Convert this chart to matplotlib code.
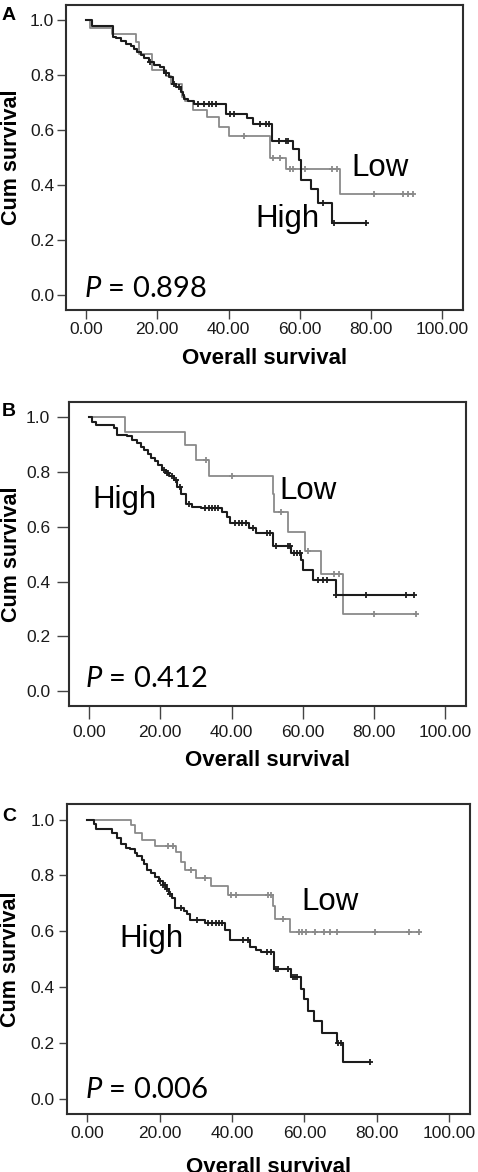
import numpy as np
import matplotlib
matplotlib.use("Agg")
import matplotlib.pyplot as plt

plt.rcParams['font.family'] = ['Liberation Sans', 'DejaVu Sans']
plt.rcParams['mathtext.fontset'] = 'custom'
plt.rcParams['mathtext.it'] = 'Lato:italic'
plt.rcParams['mathtext.rm'] = 'Lato'

# ---- données (temps, survie après chaque évènement) ----
# Panneau A
a_hi_t = [0, 1.8, 7.7, 8.3, 9.7, 11.1, 12.5, 13.5, 14.4, 15.4, 16.3, 17.7, 19.1, 20.9, 21.9,
          23.3, 24.3, 25.2, 26.6, 27.1, 27.5, 28.5, 30.3, 39.2, 45.3, 47.0, 52.2, 58.2, 59.9,
          60.4, 63.1, 65.1, 69.0]
a_hi_s = [1.0, 0.978, 0.94, 0.935, 0.925, 0.915, 0.905, 0.895, 0.885, 0.873, 0.862, 0.85, 0.838,
          0.83, 0.81, 0.794, 0.77, 0.758, 0.74, 0.73, 0.715, 0.705, 0.697, 0.66, 0.643, 0.623,
          0.56, 0.53, 0.493, 0.418, 0.384, 0.336, 0.263]
a_hi_end = 78.6
a_hi_cens = [18.0, 22.5, 24.8, 26.0, 31.5, 33.0, 34.5, 35.5, 36.5, 40.5, 41.5, 48.9, 50.5, 51.3,
             54.2, 56.0, 56.8, 66.6, 69.5, 78.6]
a_lo_t = [0, 1.1, 7.4, 14.0, 14.9, 18.6, 22.4, 24.0, 26.9, 27.7, 30.0, 33.9, 37.2, 40.0, 51.7,
          56.2, 71.3]
a_lo_s = [1.0, 0.972, 0.95, 0.92, 0.879, 0.818, 0.796, 0.77, 0.72, 0.705, 0.673, 0.649, 0.612,
          0.578, 0.50, 0.457, 0.366]
a_lo_end = 91.8
a_lo_cens = [44.4, 52.6, 54.5, 57.3, 58.2, 61.5, 69.0, 70.4, 80.7, 89.1, 90.5, 91.8]

# Panneau B
b_hi_t = [0, 0.9, 1.9, 7.0, 8.0, 10.8, 12.2, 13.5, 14.5, 15.5, 16.5, 17.5, 18.5, 19.5, 20.6,
          21.5, 22.5, 23.8, 24.8, 25.8, 27.1, 29.0, 31.3, 37.4, 38.8, 39.7, 44.9, 46.9, 51.6,
          56.7, 59.5, 60.0, 62.8, 69.4]
b_hi_s = [1.0, 0.984, 0.972, 0.96, 0.935, 0.93, 0.917, 0.905, 0.893, 0.88, 0.866, 0.853, 0.84,
          0.826, 0.807, 0.795, 0.785, 0.77, 0.745, 0.72, 0.685, 0.674, 0.667, 0.655, 0.636,
          0.612, 0.594, 0.576, 0.529, 0.505, 0.478, 0.441, 0.405, 0.35]
b_hi_end = 91.3
b_hi_cens = [21.0, 21.8, 22.2, 23.3, 24.5, 25.5, 28.0, 32.5, 33.6, 34.5, 35.5, 36.3, 41.0, 42.0,
             43.0, 44.0, 46.0, 50.0, 50.8, 52.5, 55.8, 56.4, 57.6, 58.5, 59.2, 64.4, 65.8,
             66.7, 69.4, 77.8, 89.0, 91.3]
b_lo_t = [0, 10.1, 26.9, 29.9, 33.8, 51.5, 52.0, 55.8, 60.5, 65.0, 71.2]
b_lo_s = [1.0, 0.947, 0.899, 0.844, 0.786, 0.72, 0.655, 0.582, 0.511, 0.426, 0.283]
b_lo_end = 91.8
b_lo_cens = [32.7, 40.2, 53.9, 61.5, 68.8, 70.2, 80.1, 91.8]

# Panneau C
c_hi_t = [0, 1.8, 2.3, 6.9, 8.3, 9.2, 10.6, 11.9, 13.3, 13.8, 15.2, 15.6, 16.5, 17.5, 18.8,
          19.8, 20.8, 21.8, 22.6, 23.4, 24.3, 26.6, 27.5, 28.5, 32.6, 38.1, 39.5, 44.9, 46.6,
          48.0, 51.7, 56.3, 59.0, 59.9, 60.9, 62.7, 64.8, 68.9, 70.8]
c_hi_s = [1.0, 0.983, 0.965, 0.953, 0.933, 0.911, 0.899, 0.893, 0.88, 0.869, 0.855, 0.84, 0.821,
          0.81, 0.795, 0.779, 0.765, 0.75, 0.735, 0.72, 0.684, 0.672, 0.66, 0.642, 0.63, 0.605,
          0.57, 0.545, 0.531, 0.524, 0.465, 0.435, 0.393, 0.357, 0.315, 0.277, 0.237, 0.198,
          0.132]
c_hi_end = 78.1
c_hi_cens = [20.2, 20.8, 21.4, 22.0, 22.8, 26.0, 30.3, 33.5, 34.5, 35.5, 36.5, 37.2, 43.0, 44.4,
             49.8, 50.7, 52.1, 52.6, 55.4, 56.8, 57.5, 58.1, 69.2, 70.1, 78.1]
c_lo_t = [0, 12.2, 13.1, 15.0, 18.6, 24.6, 26.0, 26.9, 30.1, 34.1, 38.8, 51.4, 51.8, 56.0]
c_lo_s = [1.0, 0.98, 0.952, 0.928, 0.904, 0.884, 0.848, 0.821, 0.792, 0.762, 0.731, 0.69,
          0.644, 0.599]
c_lo_end = 91.7
c_lo_cens = [22.4, 23.8, 28.7, 32.6, 39.6, 41.0, 49.9, 50.7, 54.0, 58.5, 59.4, 60.4, 63.0, 65.3,
             67.2, 69.0, 79.5, 89.0, 91.7]

x_ticks = [0, 20, 40, 60, 80, 100]
x_labels = ["0.00", "20.00", "40.00", "60.00", "80.00", "100.00"]
y_ticks = [0.0, 0.2, 0.4, 0.6, 0.8, 1.0]
y_labels = ["0.0", "0.2", "0.4", "0.6", "0.8", "1.0"]

p_values = ["0.898", "0.412", "0.006"]
letters = ["A", "B", "C"]

BLACK = "#1c1c1c"
GRAY = "#8a8a8a"


def km(ax, t, s, t_end, cens, color, lw):
    t = np.asarray(t, float)
    s = np.asarray(s, float)
    ax.step(np.append(t, t_end), np.append(s, s[-1]), where="post", color=color, lw=lw)
    c = np.asarray(cens, float)
    idx = np.searchsorted(t, c, side="right") - 1
    ax.plot(c, s[idx], ls="none", marker="+", ms=4.5, mew=1.3, color=color)


fig = plt.figure(figsize=(4.78, 11.72), dpi=100)

# position des panneaux, réglages des ticks, position des textes
panels = [
    dict(rect=[0.1381, 0.7355, 0.8305, 0.2602], tl=6.5, pad=2.0, ylab_x=-0.110, xlab_y=-0.125,
         letter_y=0.994, hi=(47.5, 0.247), lo=(74.6, 0.433), p=(-0.5, -0.006),
         curves=((a_hi_t, a_hi_s, a_hi_end, a_hi_cens), (a_lo_t, a_lo_s, a_lo_end, a_lo_cens))),
    dict(rect=[0.1444, 0.3976, 0.8305, 0.2594], tl=9.0, pad=4.5, ylab_x=-0.119, xlab_y=-0.145,
         letter_y=0.656, hi=(1.0, 0.667), lo=(53.3, 0.70), p=(-1.2, 0.015),
         curves=((b_hi_t, b_hi_s, b_hi_end, b_hi_cens), (b_lo_t, b_lo_s, b_lo_end, b_lo_cens))),
    dict(rect=[0.1402, 0.0495, 0.8431, 0.2645], tl=5.5, pad=3.5, ylab_x=-0.113, xlab_y=-0.140,
         letter_y=0.311, hi=(8.8, 0.542), lo=(59.1, 0.677), p=(-0.6, 0.002),
         curves=((c_hi_t, c_hi_s, c_hi_end, c_hi_cens), (c_lo_t, c_lo_s, c_lo_end, c_lo_cens))),
]

for i, pn in enumerate(panels):
    ax = fig.add_axes(pn["rect"])
    hi, lo = pn["curves"]
    km(ax, *lo, GRAY, 1.3)
    km(ax, *hi, BLACK, 1.5)

    ax.set_xlim(-5.6, 105.8)
    ax.set_ylim(-0.055, 1.056)
    ax.set_xticks(x_ticks)
    ax.set_xticklabels(x_labels)
    ax.set_yticks(y_ticks)
    ax.set_yticklabels(y_labels)
    ax.tick_params(length=pn["tl"], width=1.0, pad=pn["pad"], labelsize=12.5,
                   color="#444444", labelcolor="#1a1a1a")
    for sp in ax.spines.values():
        sp.set_linewidth(1.5)
        sp.set_color("#2e2e2e")

    ax.set_xlabel("Overall survival", fontsize=16, fontweight="bold")
    ax.set_ylabel("Cum survival", fontsize=15.5, fontweight="bold")
    ax.xaxis.set_label_coords(0.5, pn["xlab_y"])
    ax.yaxis.set_label_coords(pn["ylab_x"], 0.5)

    ax.text(pn["hi"][0], pn["hi"][1], "High", fontsize=22.5, va="baseline", ha="left")
    ax.text(pn["lo"][0], pn["lo"][1], "Low", fontsize=22.5, va="baseline", ha="left")
    ax.text(pn["p"][0], pn["p"][1], r"$P$ = " + p_values[i], family="Lato",
            fontsize=21, va="baseline", ha="left")

    fig.text(0.004, pn["letter_y"], letters[i], fontsize=14, fontweight="bold",
             va="top", ha="left")

fig.savefig("out.png", dpi=100)
